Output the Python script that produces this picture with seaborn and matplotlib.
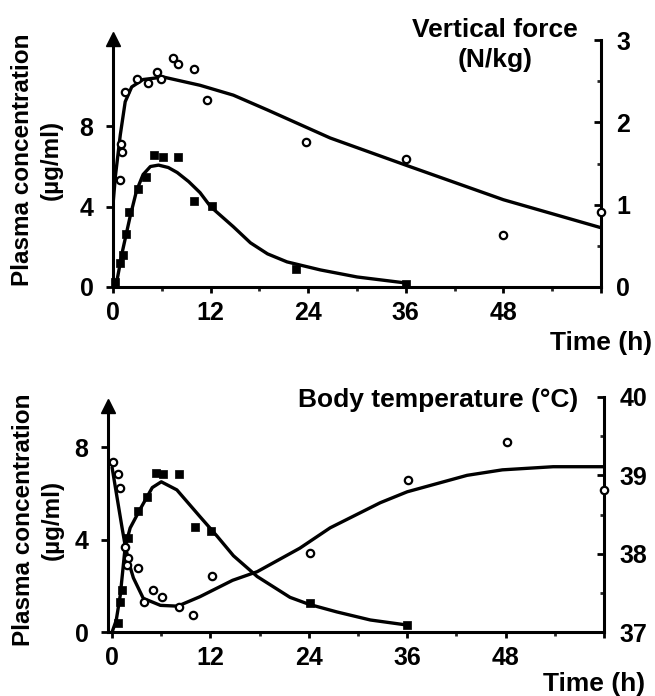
import matplotlib
matplotlib.use("Agg")
import matplotlib.pyplot as plt
import seaborn as sns
import numpy as np

sns.set_theme(style="white")
plt.rcParams['font.family'] = ['Liberation Sans', 'DejaVu Sans']
plt.rcParams['font.weight'] = 'bold'

# ---------------- data: top panel (vertical force) ----------------
top_conc_t = [0.2, 0.9, 1.2, 1.6, 2.0, 3.1, 4.1, 5.0, 6.1, 8.0, 9.9, 12.2, 22.5, 36]
top_conc_c = [0.25, 1.2, 1.6, 2.65, 3.75, 4.9, 5.5, 6.55, 6.45, 6.45, 4.3, 4.05, 0.9, 0.15]
top_conc_fit_t = [0, 0.5, 1.2, 2.1, 2.9, 3.7, 4.6, 5.6, 6.8, 7.9, 9.3, 10.7, 12.0, 13.4, 14.8, 16.9, 19.0, 21.4, 25.5, 30, 36]
top_conc_fit_c = [0, 0.35, 1.85, 3.5, 4.8, 5.6, 6.0, 6.07, 5.95, 5.7, 5.25, 4.7, 4.0, 3.5, 3.0, 2.2, 1.65, 1.25, 0.85, 0.5, 0.2]

force_t = [0.8, 1.0, 1.1, 1.5, 3.0, 4.3, 5.4, 5.9, 7.4, 8.0, 9.9, 11.5, 23.7, 36, 48, 60]
force_v = [1.30, 1.74, 1.64, 2.37, 2.53, 2.48, 2.61, 2.53, 2.78, 2.71, 2.65, 2.27, 1.76, 1.56, 0.63, 0.91]
force_fit_t = [0, 0.3, 0.9, 1.5, 2.3, 3.7, 6.2, 10.7, 14.8, 19, 26.7, 36, 48, 60]
force_fit_v = [1.0, 1.35, 1.85, 2.25, 2.43, 2.52, 2.55, 2.45, 2.33, 2.15, 1.81, 1.48, 1.06, 0.72]

# ---------------- data: bottom panel (body temperature) ----------------
bot_conc_t = [0.75, 1.0, 1.2, 2.0, 3.1, 4.2, 5.4, 6.2, 8.2, 10.1, 12.1, 24.1, 36]
bot_conc_c = [0.4, 1.3, 1.8, 4.05, 5.25, 5.85, 6.9, 6.85, 6.85, 4.55, 4.35, 1.25, 0.3]
bot_conc_fit_t = [0, 0.5, 1.0, 1.6, 2.2, 3.4, 4.9, 6.0, 7.9, 10.7, 12.8, 14.8, 17.7, 21.7, 24, 27.4, 31.5, 36]
bot_conc_fit_c = [0, 0.5, 1.6, 3.7, 4.5, 5.3, 6.25, 6.5, 6.15, 5.0, 4.15, 3.3, 2.4, 1.5, 1.2, 0.87, 0.52, 0.3]

temp_t = [0.1, 0.75, 1.0, 1.6, 2.0, 1.8, 3.2, 3.9, 5.0, 6.1, 8.2, 9.9, 12.2, 24.1, 36.1, 48.2, 60]
temp_T = [39.17, 39.02, 38.84, 38.09, 37.95, 37.86, 37.82, 37.38, 37.54, 37.45, 37.32, 37.22, 37.72, 38.01, 38.94, 39.43, 38.81]
temp_fit_t = [0, 1.2, 1.6, 2.2, 2.6, 3.8, 5.9, 8, 10.7, 14.7, 17.7, 22.9, 26.6, 32.7, 36, 43.3, 47.6, 53.8, 60]
temp_fit_T = [39.1, 38.34, 38.1, 37.83, 37.69, 37.43, 37.34, 37.33, 37.45, 37.66, 37.77, 38.07, 38.33, 38.65, 38.79, 39.0, 39.07, 39.11, 39.11]

x_major = [0, 12, 24, 36, 48, 60]
x_labels = ['0', '12', '24', '36', '48', '']
x_minor = [6, 18, 30, 42, 54]

W, H = 655, 696
FS_TICK = 18
FS_TXT = 19
FS_YLAB = 17.5
fig = plt.figure(figsize=(W / 100, H / 100), dpi=100)


def px_axes(x0, x1, ytop, ybot):
    return fig.add_axes([x0 / W, 1 - ybot / H, (x1 - x0) / W, (ybot - ytop) / H])


def style(ax, ax2, xlim, ylim, y2lim, left_ticks, right_major, right_minor, right_labels, arrow_y, spine_top):
    ax.set_xlim(*xlim)
    ax.set_ylim(*ylim)
    ax2.set_ylim(*y2lim)
    for a in (ax, ax2):
        a.grid(False)
        a.set_facecolor('none')
        for s in a.spines.values():
            s.set_visible(False)
            s.set_color('black')
            s.set_linewidth(2.2)
    ax.spines['left'].set_visible(True)
    ax.spines['bottom'].set_visible(True)
    ax2.spines['right'].set_visible(True)
    ax.spines['left'].set_bounds(ylim[0], spine_top)
    ax.set_xticks(x_major)
    ax.set_xticklabels(x_labels)
    ax.set_xticks(x_minor, minor=True)
    ax.tick_params(axis='x', which='major', direction='out', length=4, width=2, pad=6,
                   labelsize=FS_TICK, colors='black', bottom=True)
    ax.tick_params(axis='x', which='minor', direction='out', length=3, width=2, bottom=True)
    ax.set_yticks(left_ticks)
    ax.set_yticklabels([str(v) for v in left_ticks])
    ax.tick_params(axis='y', which='major', direction='out', length=5, width=2, pad=9,
                   labelsize=FS_TICK, colors='black', left=True)
    ax2.set_yticks(right_major)
    ax2.set_yticklabels(right_labels)
    ax2.set_yticks(right_minor, minor=True)
    ax2.tick_params(axis='y', which='major', direction='in', length=5, width=2, pad=11,
                    labelsize=FS_TICK, colors='black', right=True)
    ax2.tick_params(axis='y', which='minor', direction='in', length=3, width=2, right=True)
    for lab in ax.get_xticklabels() + ax.get_yticklabels() + ax2.get_yticklabels():
        lab.set_fontweight('bold')
    ax.set_xlabel('')
    ax.set_ylabel('')
    ax2.set_ylabel('')
    ax.plot([0], [arrow_y], marker='^', color='black', markersize=9.5, transform=ax.transAxes,
            clip_on=False, zorder=10)


def draw(ax, ax2, ct, cc, cft, cfc, ot, ov, oft, ofv):
    sns.lineplot(x=cft, y=cfc, ax=ax, color='black', linewidth=2.4, sort=False, estimator=None)
    sns.scatterplot(x=ct, y=cc, ax=ax, marker='s', s=30, color='black', edgecolor='black',
                    linewidth=0.5, zorder=5, clip_on=False)
    sns.lineplot(x=oft, y=ofv, ax=ax2, color='black', linewidth=2.4, sort=False, estimator=None)
    sns.scatterplot(x=ot, y=ov, ax=ax2, marker='o', s=28, color='white', edgecolor='black',
                    linewidth=1.6, zorder=5, clip_on=False)


# ---------------- top panel ----------------
ax1 = px_axes(113, 601, 40, 287)
ax1b = ax1.twinx()
draw(ax1, ax1b, top_conc_t, top_conc_c, top_conc_fit_t, top_conc_fit_c,
     force_t, force_v, force_fit_t, force_fit_v)
style(ax1, ax1b, (0, 60), (0, 12.3), (0, 3), [0, 4, 8], [0, 1, 2, 3], [0.5, 1.5, 2.5],
      ['0', '1', '2', '3'], 1.006, 12.3)

# ---------------- bottom panel ----------------
ax2 = px_axes(108, 604, 397, 632)
ax2b = ax2.twinx()
draw(ax2, ax2b, bot_conc_t, bot_conc_c, bot_conc_fit_t, bot_conc_fit_c,
     temp_t, temp_T, temp_fit_t, temp_fit_T)
style(ax2, ax2b, (-0.5, 60), (0, 10.17), (37, 40), [0, 4, 8], [37, 38, 39, 40], [37.5, 38.5, 39.5],
      ['37', '38', '39', '40'], 0.962, 9.7)


def ftext(x, y, s, fs, **kw):
    fig.text(x / W, 1 - y / H, s, fontsize=fs, fontweight='bold', color='black', **kw)


ftext(37, 160, 'Plasma concentration\n(µg/ml)', FS_YLAB, rotation=90, ha='center', va='center',
      multialignment='center', linespacing=1.3)
ftext(38, 520, 'Plasma concentration\n(µg/ml)', FS_YLAB, rotation=90, ha='center', va='center',
      multialignment='center', linespacing=1.3)
ftext(495, 45, 'Vertical force\n(N/kg)', FS_TXT, ha='center', va='center', multialignment='center',
      linespacing=1.35)
ftext(578, 400, 'Body temperature (°C)', FS_TXT, ha='right', va='center')
ftext(601, 343, 'Time (h)', FS_TXT, ha='center', va='center')
ftext(594, 684, 'Time (h)', FS_TXT, ha='center', va='center')

fig.savefig('out.png', dpi=100)
